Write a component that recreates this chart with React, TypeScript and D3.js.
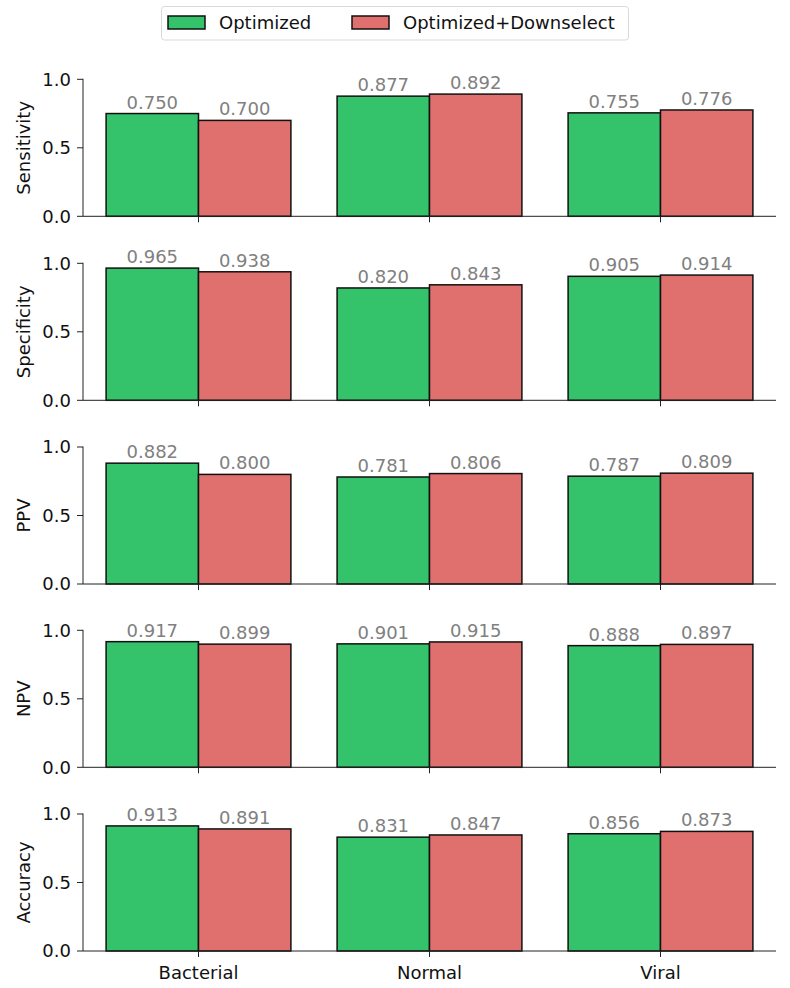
import React from "react";
import * as d3 from "d3";

const categories = ["Bacterial", "Normal", "Viral"];
const seriesNames = ["Optimized", "Optimized+Downselect"];
const metrics = ["Sensitivity", "Specificity", "PPV", "NPV", "Accuracy"];
const optimized = [
  [0.75, 0.877, 0.755],
  [0.965, 0.82, 0.905],
  [0.882, 0.781, 0.787],
  [0.917, 0.901, 0.888],
  [0.913, 0.831, 0.856],
];
const downselect = [
  [0.7, 0.892, 0.776],
  [0.938, 0.843, 0.914],
  [0.8, 0.806, 0.809],
  [0.899, 0.915, 0.897],
  [0.891, 0.847, 0.873],
];
const yTicks = [0, 0.5, 1.0];
const colors = ["#34c26b", "#e0706e"];

const W = 790;
const H = 988;
const FONT = "DejaVu Sans, sans-serif";
const FS = 18;

export default function App() {
  const xLeft = 83;
  const xRight = 776;
  const x = d3.scaleLinear().domain([-0.5, 2.5]).range([xLeft, xRight]);
  const barW = x(0.4) - x(0);
  const zeros = [216.3, 400.3, 584, 767.3, 951];
  const unitH = 137;

  return (
    <svg
      width={W}
      height={H}
      style={{ position: "absolute", left: 0, top: 0, background: "#fff" }}
      fontFamily={FONT}
    >
      {/* Legend */}
      <g>
        <rect x={161.5} y={6.5} width={467} height={33.5} rx={3} fill="#fff" stroke="#d9d9d9" strokeWidth={1} />
        <rect x={168} y={16} width={37} height={13} fill={colors[0]} stroke="#111" strokeWidth={1.5} />
        <text x={219} y={29} fontSize={FS} fill="#111">{seriesNames[0]}</text>
        <rect x={352} y={16} width={37} height={13} fill={colors[1]} stroke="#111" strokeWidth={1.5} />
        <text x={403} y={29} fontSize={FS} fill="#111">{seriesNames[1]}</text>
      </g>
      {metrics.map((m, i) => {
        const y0 = zeros[i];
        const y = d3.scaleLinear().domain([0, 1]).range([y0, y0 - unitH]);
        return (
          <g key={m}>
            {categories.map((c, j) => {
              const vals = [optimized[i][j], downselect[i][j]];
              return (
                <g key={c}>
                  {vals.map((v, k) => {
                    const bx = x(j - 0.4 + k * 0.4);
                    return (
                      <g key={k}>
                        <rect
                          x={bx}
                          y={y(v)}
                          width={barW}
                          height={y(0) - y(v)}
                          fill={colors[k]}
                          stroke="#111"
                          strokeWidth={1.5}
                        />
                        <text
                          x={bx + barW / 2}
                          y={y(v) - 5}
                          textAnchor="middle"
                          fontSize={FS}
                          fill="#808080"
                        >
                          {v.toFixed(3)}
                        </text>
                      </g>
                    );
                  })}
                </g>
              );
            })}
            {/* spines */}
            <line x1={xLeft} x2={xLeft} y1={y(0)} y2={y(1) - 0.5} stroke="#222" strokeWidth={1} />
            <line x1={xLeft} x2={xRight} y1={y(0)} y2={y(0)} stroke="#222" strokeWidth={1} />
            {yTicks.map((t) => (
              <g key={t}>
                <line x1={xLeft - 6} x2={xLeft} y1={y(t)} y2={y(t)} stroke="#222" strokeWidth={1} />
                <text x={xLeft - 12} y={y(t)} dy="0.36em" textAnchor="end" fontSize={FS} fill="#111">
                  {t.toFixed(1)}
                </text>
              </g>
            ))}
            {categories.map((c, j) => (
              <line key={c} x1={x(j)} x2={x(j)} y1={y(0)} y2={y(0) + 6} stroke="#222" strokeWidth={1} />
            ))}
            <text
              transform={`translate(${29.5},${y(0.5)}) rotate(-90)`}
              textAnchor="middle"
              fontSize={FS}
              fill="#111"
            >
              {m}
            </text>
            {i === metrics.length - 1 &&
              categories.map((c, j) => (
                <text key={c} x={x(j)} y={y(0) + 28} textAnchor="middle" fontSize={FS} fill="#111">
                  {c}
                </text>
              ))}
          </g>
        );
      })}
    </svg>
  );
}
